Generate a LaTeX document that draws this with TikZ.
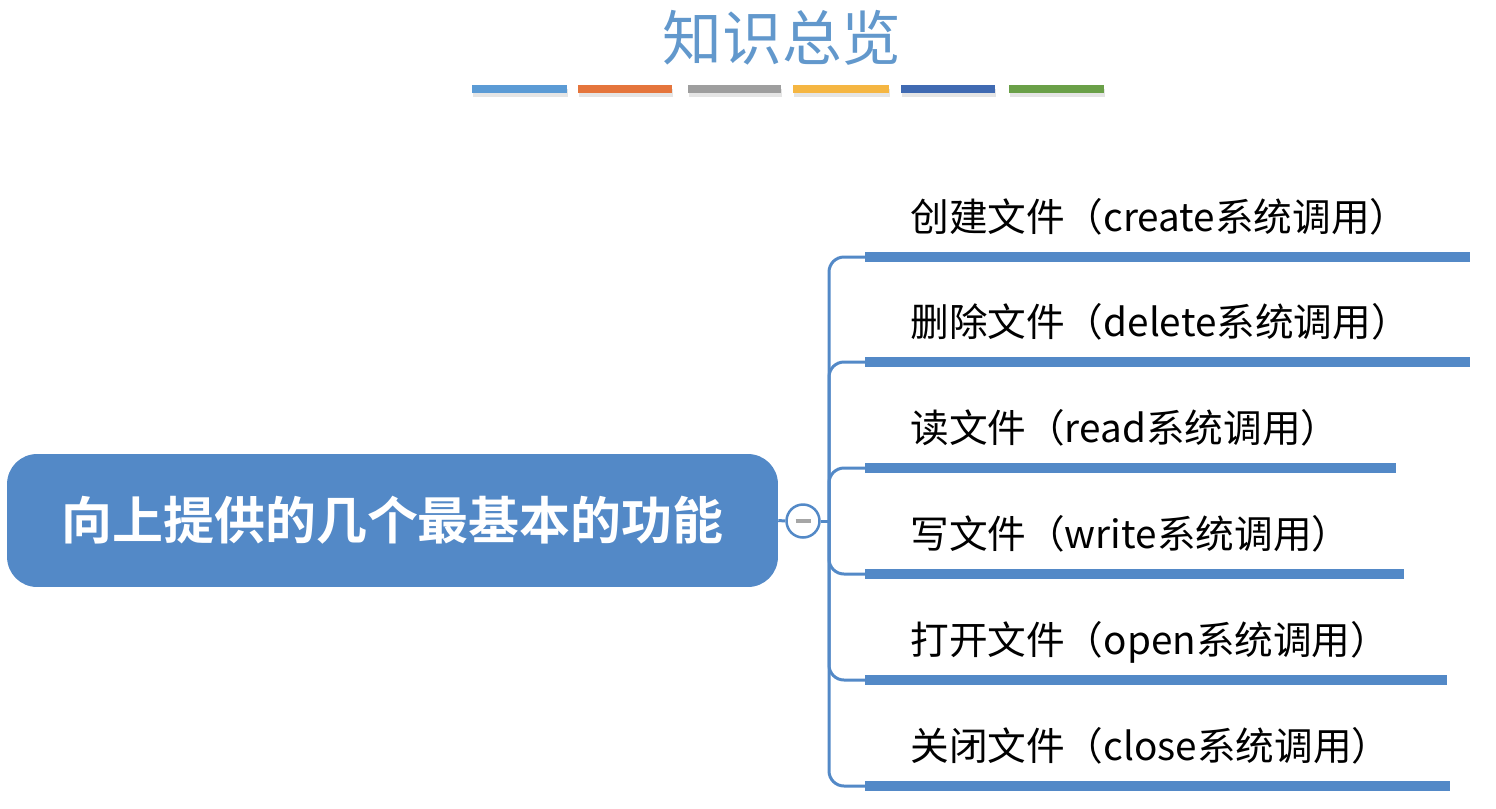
\documentclass[tikz,border=0pt]{standalone}
\usepackage{fontspec}
\newfontfamily\cjk{Noto Sans CJK SC}[BoldFont={Noto Sans CJK SC Bold}]
\usetikzlibrary{positioning}
\definecolor{mapblue}{RGB}{83,137,199}
\definecolor{titleblue}{RGB}{98,152,204}
\definecolor{barblue}{RGB}{91,155,213}
\definecolor{barorange}{RGB}{229,117,60}
\definecolor{bargray}{RGB}{158,158,158}
\definecolor{baryellow}{RGB}{245,182,66}
\definecolor{bardark}{RGB}{64,106,178}
\definecolor{bargreen}{RGB}{106,160,72}
\tikzset{
	rootbox/.style={fill=mapblue, rounded corners=0.6cm, minimum width=15.42cm, minimum height=2.66cm, text=white, font=\cjk\bfseries\fontsize{29}{29}\selectfont},
	leaf/.style={anchor=base west, inner sep=0pt, font=\cjk\fontsize{22}{22}\selectfont},
	twig/.style={draw=mapblue, line width=0.06cm},
	uline/.style={draw=mapblue, line width=0.2cm},
	bar/.style={line width=0.16cm}
}
\begin{document}
\begin{tikzpicture}[x=0.02cm,y=-0.02cm]
	\useasboundingbox (0,0) rectangle (1496,808);
	\node[font=\cjk\fontsize{34}{34}\selectfont, text=titleblue] (title) at (782,38) {知识总览};
	\foreach \a/\b/\c in {472/567/barblue,578/672/barorange,688/781/bargray,793/889/baryellow,901/995/bardark,1009/1104/bargreen}{
		\draw[bar, black!10] (\a+1,93) -- (\b+1,93);
		\draw[bar, \c] (\a,89) -- (\b,89);
	}
	\node[rootbox] (root) at (392.5,520.5) {向上提供的几个最基本的功能};
	\node[circle, draw=mapblue, line width=0.05cm, fill=white, minimum size=0.66cm, inner sep=0pt] (circ) at (803,521) {};
	\draw[gray!70, line width=0.07cm] ([xshift=-0.15cm]circ.center) -- ([xshift=0.15cm]circ.center);
	\coordinate (jn) at (829,521);
	\draw[twig] (root.east) -- (circ.west);
	\draw[twig] (circ.east) -- (jn);
	\foreach \i/\y/\e/\t in {1/257/1470/创建文件（create系统调用）, 2/362/1470/删除文件（delete系统调用）, 3/468/1396/读文件（read系统调用）, 4/574/1404/写文件（write系统调用）, 5/680/1447/打开文件（open系统调用）, 6/786/1450/关闭文件（close系统调用）}{
		\coordinate (u\i) at (865,\y);
		\draw[twig, rounded corners=0.3cm] (jn) |- (u\i);
		\draw[uline] (u\i) -- (\e,\y);
		\node[leaf] (t\i) at ([shift={(45,-26)}]u\i) {\t};
	}
\end{tikzpicture}
\end{document}
